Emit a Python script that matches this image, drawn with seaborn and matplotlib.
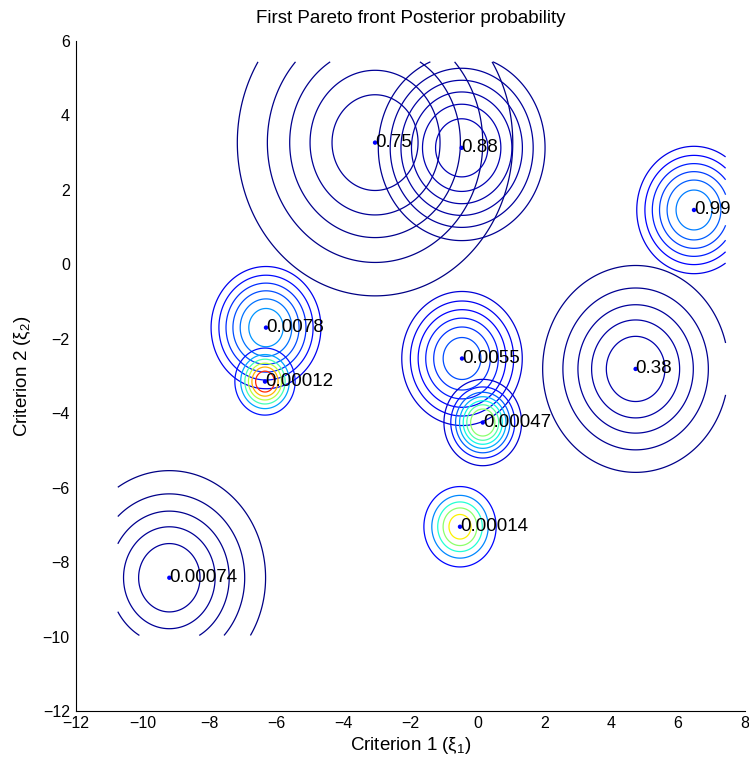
import numpy as np
import matplotlib
matplotlib.use("Agg")
import matplotlib.pyplot as plt
import seaborn as sns
import pandas as pd

# ---- data ----
labels = ["0.75", "0.88", "0.99", "0.0078", "0.00012", "0.0055",
          "0.38", "0.00047", "0.00014", "0.00074"]
center_x = [-3.06, -0.47, 6.475, -6.32, -6.35, -0.46, 4.73, 0.16, -0.52, -9.21]
center_y = [3.27, 3.13, 1.46, -1.70, -3.15, -2.53, -2.81, -4.25, -7.05, -8.42]
spread = [2.18, 1.69, 1.16, 1.113, 0.452, 1.221, 1.47, 0.5585, 0.573, 1.52]
peak = [0.03, 0.056, 0.278, 0.30, 1.05, 0.2225, 0.05, 0.64, 0.77, 0.03]
peak_to_step = [5.95, 8.9, 8.9, 8.9, 7.27, 8.9, 5.97, 8.64, 5.9, 6.0]
first_level = [1, 3, 3, 3, 1, 3, 1, 1, 1, 1]
n_rings = [5, 6, 6, 6, 6, 6, 5, 7, 5, 5]
grid_x_range = (-10.75, 7.42)
grid_y_range = (-9.97, 5.44)
x_ticks = list(range(-12, 9, 2))
y_ticks = list(range(-12, 7, 2))

sns.set_style("white")
plt.rcParams["font.family"] = ["Liberation Sans", "DejaVu Sans"]
plt.rcParams["mathtext.fontset"] = "custom"
plt.rcParams["mathtext.rm"] = "Liberation Sans"
plt.rcParams["mathtext.it"] = "Liberation Sans:italic"
plt.rcParams["text.color"] = "black"
plt.rcParams["axes.labelcolor"] = "black"

fig = plt.figure(figsize=(7.49, 7.59), dpi=100)
ax = fig.add_axes([76 / 749, 48 / 759, 669 / 749, 670 / 759])

gx = np.linspace(grid_x_range[0], grid_x_range[1], 800)
gy = np.linspace(grid_y_range[0], grid_y_range[1], 800)
X, Y = np.meshgrid(gx, gy)
norm = plt.Normalize(0, 1)
cmap = plt.get_cmap("jet")

for i in range(len(labels)):
    Z = peak[i] * np.exp(-((X - center_x[i]) ** 2 + (Y - center_y[i]) ** 2)
                         / (2 * spread[i] ** 2))
    step = peak[i] / peak_to_step[i]
    levels = step * np.arange(first_level[i], first_level[i] + n_rings[i])
    ax.contour(X, Y, Z, levels=levels, cmap=cmap, norm=norm, linewidths=0.9)

df = pd.DataFrame({"x": center_x, "y": center_y, "label": labels})
sns.scatterplot(data=df, x="x", y="y", ax=ax, color=(0, 0, 1), s=10,
                edgecolor="none", zorder=5)
for _, r in df.iterrows():
    ax.text(r["x"], r["y"], r["label"], ha="left", va="center",
            fontsize=13.5, color="black", zorder=6)

ax.set_xlim(-12, 8)
ax.set_ylim(-12, 6)
ax.set_xticks(x_ticks)
ax.set_yticks(y_ticks)
ax.tick_params(direction="in", length=5, width=0.8, labelsize=11.5,
               colors="black")
ax.tick_params(axis="x", pad=3.5)
ax.tick_params(axis="y", pad=4.5)
for side in ["top", "right"]:
    ax.spines[side].set_visible(False)
for side in ["left", "bottom"]:
    ax.spines[side].set_color("black")
    ax.spines[side].set_linewidth(0.8)

ax.set_xlabel("Criterion 1 (ξ$_1$)", fontsize=13.5, labelpad=3, color="black")
ax.set_ylabel("Criterion 2 (ξ$_2$)", fontsize=13.5, labelpad=7, color="black")
ax.set_title("First Pareto front Posterior probability", fontsize=13.5, pad=13,
             color="black")

fig.savefig("out.png", dpi=100)
